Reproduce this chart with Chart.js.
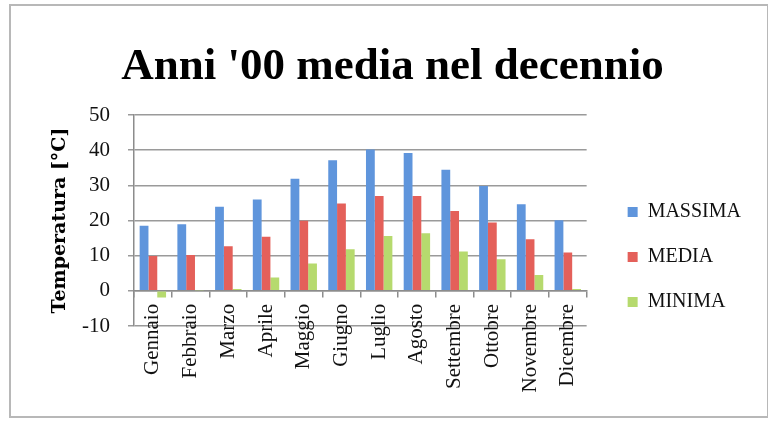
<!DOCTYPE html>
<html>
<head>
<meta charset="utf-8">
<script src="https://cdn.jsdelivr.net/npm/chart.js@4.4.1/dist/chart.umd.min.js"></script>
<style>
    body { margin: 0; background: #fff; }
    #wrap { position: relative; width: 768px; height: 421px; }
    #frame { position: absolute; left: 9px; top: 4px; width: 760px; height: 414px;
             border: 2px solid #b8b8b8; box-sizing: border-box; }
    #chart { position: absolute; left: 0; top: 0; }
</style>
</head>
<body>
<div id="wrap">
    <div id="frame"></div>
    <canvas id="chart" width="768" height="421"></canvas>
</div>
<script>
// Data (°C, decade average)
const mesi = ['Gennaio', 'Febbraio', 'Marzo', 'Aprile', 'Maggio', 'Giugno',
              'Luglio', 'Agosto', 'Settembre', 'Ottobre', 'Novembre', 'Dicembre'];
const massima = [18.5, 18.9, 23.9, 26.0, 31.9, 37.1, 40.2, 39.2, 34.4, 29.8, 24.6, 20.1];
const media   = [9.9, 10.2, 12.7, 15.4, 19.9, 24.8, 27.0, 27.0, 22.7, 19.4, 14.7, 10.9];
const minima  = [-1.9, 0.2, 0.5, 3.8, 7.8, 11.8, 15.6, 16.4, 11.2, 9.0, 4.5, 0.5];
const yTicks  = [-10, 0, 10, 20, 30, 40, 50];

const serif = "'Liberation Serif', 'DejaVu Serif', serif";

// 1. Datasets
var datasets = [
    { label: 'MASSIMA', data: massima, backgroundColor: '#5f95dc' },
    { label: 'MEDIA',   data: media,   backgroundColor: '#e4605a' },
    { label: 'MINIMA',  data: minima,  backgroundColor: '#b6da6e' }
];

Chart.defaults.font.family = serif;
Chart.defaults.color = '#111';

// small offsets so title and legend sit where the original put them
const nudge = {
    id: 'nudge',
    afterLayout: function (chart) {
        var lg = chart.legend;
        lg.left += 16; lg.right += 16;
        lg.top += 74; lg.bottom += 74;
        var tb = chart.titleBlock;
        tb.left += 20; tb.right += 20;
    }
};

// 2. Build chart
var ctx = document.getElementById('chart').getContext('2d');
new Chart(ctx, {
    type: 'bar',
    data: { labels: mesi, datasets: datasets },
    plugins: [nudge],
    options: {
        responsive: false,
        animation: false,
        layout: { padding: { top: 40, left: 10, right: 33, bottom: 95 } },
        datasets: { bar: { categoryPercentage: 0.7, barPercentage: 1.0 } },
        plugins: {
            title: {
                display: true,
                text: "Anni '00 media nel decennio",
                font: { size: 45, weight: 'bold', family: serif },
                color: '#000',
                padding: { top: 0, bottom: 21 }
            },
            legend: {
                position: 'right',
                labels: {
                    boxWidth: 10,
                    boxHeight: 10,
                    padding: 25,
                    font: { size: 20, family: serif },
                    color: '#111'
                }
            },
            tooltip: { enabled: false }
        },
        scales: {
            x: {
                position: { y: 0 },
                afterFit: function (axis) { axis.height = 1; },
                grid: { drawOnChartArea: false, tickLength: 6, color: '#8c8c8c', lineWidth: 1.5 },
                border: { color: '#8c8c8c', width: 1.5 },
                ticks: { minRotation: 90, maxRotation: 90, padding: 7, font: { size: 21, family: serif }, color: '#111' }
            },
            y: {
                min: -10,
                max: 50,
                afterFit: function (axis) { axis.width = 124; },
                afterBuildTicks: function (axis) {
                    axis.ticks = yTicks.map(function (v) { return { value: v }; });
                },
                grid: { color: '#9a9a9a', lineWidth: 1.5, tickLength: 6 },
                border: { color: '#8c8c8c', width: 1.5 },
                ticks: { padding: 18, font: { size: 21, family: serif }, color: '#111' },
                title: {
                    display: true,
                    text: 'Temperatura [°C]',
                    font: { size: 19, weight: 'bold', family: "'DejaVu Serif', serif" },
                    color: '#000',
                    padding: { top: 39, bottom: 0 }
                }
            }
        }
    }
});
</script>
</body>
</html>
